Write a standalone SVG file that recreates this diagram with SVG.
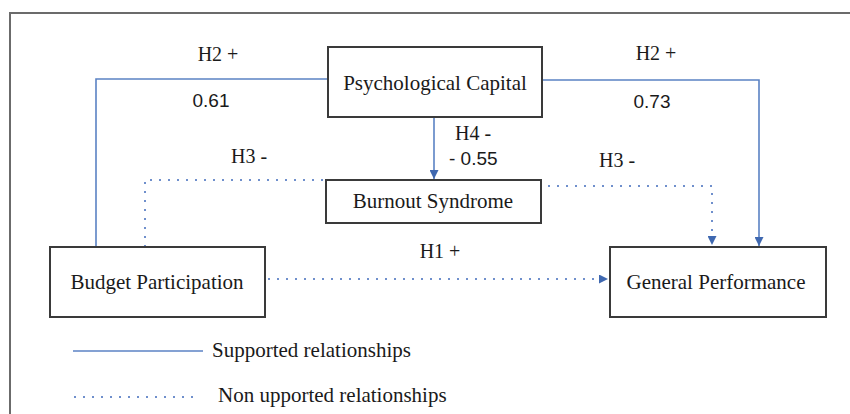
<svg xmlns="http://www.w3.org/2000/svg" width="850" height="414" viewBox="0 0 850 414">
<defs>
<style>
.box{fill:#fff;stroke:#3a3a3a;stroke-width:2}
.lbl{font-family:"Liberation Serif","Times New Roman",serif;font-size:21px;fill:#1a1a1a;text-anchor:middle}
.leg{font-family:"Liberation Serif","Times New Roman",serif;font-size:21px;fill:#1a1a1a;text-anchor:start}
.h{font-family:"Liberation Serif","Times New Roman",serif;font-size:20px;fill:#1a1a1a}
.num{font-family:"Liberation Sans",Arial,sans-serif;font-size:19px;fill:#1a1a1a}
.sol{fill:none;stroke:#5b82c4;stroke-width:1.6}
.dot{fill:none;stroke:#6f8fcc;stroke-width:2;stroke-dasharray:2 7}
</style>
<marker id="ah" viewBox="0 0 10 10" refX="10" refY="5" markerWidth="9" markerHeight="9" markerUnits="userSpaceOnUse" orient="auto">
<path d="M0,0 L10,5 L0,10 z" fill="#3f68b0"/>
</marker>
</defs>
<rect width="850" height="414" fill="#fff"/>
<path d="M10,414 V13 H850" fill="none" stroke="#6b6b6b" stroke-width="2"/>
<g id="connectors">
<path class="sol" d="M96,247 V79 H328"/>
<path class="sol" d="M543,80 H759 V246" marker-end="url(#ah)"/>
<path class="sol" d="M434,117 V179" marker-end="url(#ah)"/>
<path class="dot" d="M145,247 V180 H325"/>
<path class="dot" d="M548,186 H712 V245" marker-end="url(#ah)"/>
<path class="dot" d="M268,279 H608" marker-end="url(#ah)"/>
<text class="h" x="218" y="61" text-anchor="middle">H2 +</text>
<text class="num" x="211" y="107" text-anchor="middle">0.61</text>
<text class="h" x="656" y="60" text-anchor="middle">H2 +</text>
<text class="num" x="652" y="108" text-anchor="middle">0.73</text>
<text class="h" x="455" y="140">H4 -</text>
<text class="num" x="449" y="165">- 0.55</text>
<text class="h" x="249" y="163" text-anchor="middle">H3 -</text>
<text class="h" x="617" y="167" text-anchor="middle">H3 -</text>
<text class="h" x="440" y="258" text-anchor="middle">H1 +</text>
</g>
<g id="psychological-capital">
<rect class="box" x="328" y="47" width="214" height="70"/>
<text class="lbl" x="435" y="90">Psychological Capital</text>
</g>
<g id="burnout-syndrome">
<rect class="box" x="326" y="180" width="215" height="43"/>
<text class="lbl" x="433" y="208">Burnout Syndrome</text>
</g>
<g id="budget-participation">
<rect class="box" x="50" y="247" width="215" height="70"/>
<text class="lbl" x="157" y="289">Budget Participation</text>
</g>
<g id="general-performance">
<rect class="box" x="610" y="247" width="216" height="70"/>
<text class="lbl" x="716" y="289">General Performance</text>
</g>
<g id="legend">
<line class="sol" x1="73" y1="351" x2="203" y2="351"/>
<text class="leg" x="212" y="357">Supported relationships</text>
<line class="dot" x1="74" y1="397" x2="200" y2="397"/>
<text class="leg" x="218" y="402">Non upported relationships</text>
</g>
</svg>
